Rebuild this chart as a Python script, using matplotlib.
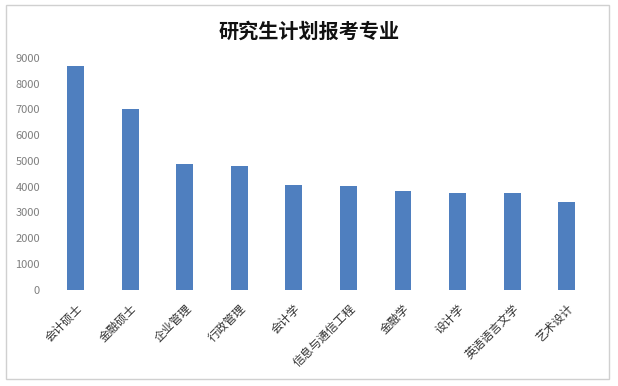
import matplotlib
matplotlib.use("Agg")
from matplotlib import pyplot as plt
from matplotlib.patches import Rectangle

plt.rcParams['font.family'] = ['Noto Sans CJK SC', 'DejaVu Sans']

# datos
majors = ['会计硕士', '金融硕士', '企业管理', '行政管理', '会计学',
          '信息与通信工程', '金融学', '设计学', '英语语言文学', '艺术设计']
counts = [8690, 7000, 4880, 4800, 4070, 4030, 3840, 3770, 3760, 3410]
yticks = [0, 1000, 2000, 3000, 4000, 5000, 6000, 7000, 8000, 9000]

fig = plt.figure(figsize=(6.18, 3.86), dpi=100)
ax = fig.add_axes([0.0783, 0.25, 0.8827, 0.5997])

ax.bar(range(len(majors)), counts, width=0.31, color='#4f7fbf')
ax.set_xlim(-0.5, len(majors) - 0.5)
ax.set_ylim(0, 9000)
ax.set_yticks(yticks)
ax.set_yticklabels([str(v) for v in yticks], fontsize=8, color='#7f7f7f')
ax.set_xticks(range(len(majors)))
ax.set_xticklabels(majors, rotation=45, ha='right', va='top',
                   rotation_mode='anchor', fontsize=8.5, color='#333333')
ax.tick_params(axis='both', length=0)
ax.tick_params(axis='y', pad=6)
ax.tick_params(axis='x', pad=9)
for s in ax.spines.values():
    s.set_visible(False)

# titulo
fig.text(0.5, 0.918, '研究生计划报考专业', ha='center', va='center',
         fontsize=14.5, fontweight='bold', color='#111111')

# marco exterior
fig.patches.append(Rectangle((6 / 618, 1 - 379 / 386), 603 / 618, 374 / 386,
                             transform=fig.transFigure, fill=False,
                             edgecolor='#d0d0d0', lw=1))

plt.savefig('out.png', dpi=100)
